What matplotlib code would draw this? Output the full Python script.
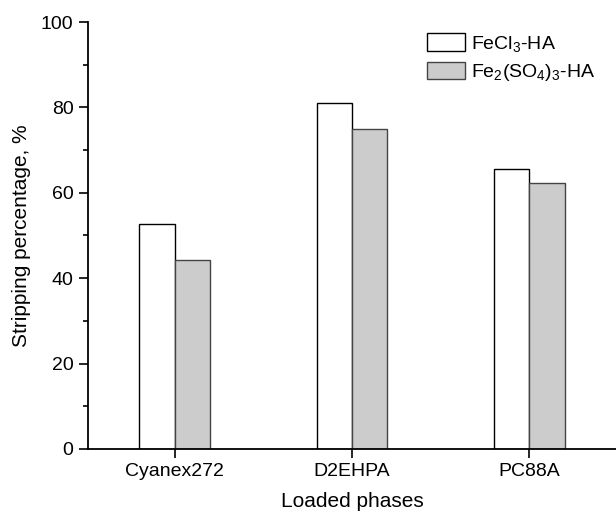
import numpy as np
import matplotlib
matplotlib.use('Agg')
import matplotlib.pyplot as plt
from matplotlib.ticker import MultipleLocator

plt.rcParams['font.family'] = ['Liberation Sans', 'DejaVu Sans']
plt.rcParams['mathtext.fontset'] = 'custom'
plt.rcParams['mathtext.rm'] = 'Liberation Sans'
plt.rcParams['mathtext.it'] = 'Liberation Sans:italic'
plt.rcParams['mathtext.bf'] = 'Liberation Sans:bold'

phases = ['Cyanex272', 'D2EHPA', 'PC88A']
fecl3 = [52.8, 81.0, 65.5]
fe2so4 = [44.2, 75.0, 62.2]

fig = plt.figure(figsize=(6.16, 5.13), dpi=100)
ax = fig.add_axes([0.143, 0.125, 0.857, 0.832])

x = np.arange(len(phases))
w = 0.2
ax.bar(x - w / 2, fecl3, w, color='white', edgecolor='black', linewidth=1.0,
       label=r'FeCl$\mathrm{_3}$-HA')
ax.bar(x + w / 2, fe2so4, w, color='#cccccc', edgecolor='#444444', linewidth=1.0,
       label=r'Fe$\mathrm{_2}$(SO$\mathrm{_4}$)$\mathrm{_3}$-HA')

ax.set_xlim(-0.49, 2.49)
ax.set_ylim(0, 100)
ax.set_xticks(x)
ax.set_xticklabels(phases)
ax.yaxis.set_major_locator(MultipleLocator(20))
ax.yaxis.set_minor_locator(MultipleLocator(10))
ax.tick_params(axis='both', which='major', direction='out', length=6.5, width=1.2,
               labelsize=14, pad=4)
ax.tick_params(axis='y', which='minor', direction='out', length=3.6, width=1.2)

for s in ['top', 'right']:
    ax.spines[s].set_visible(False)
for s in ['left', 'bottom']:
    ax.spines[s].set_linewidth(1.3)

ax.set_xlabel('Loaded phases', fontsize=15, labelpad=8)
ax.set_ylabel('Stripping percentage, %', fontsize=15, labelpad=7)

ax.legend(loc='upper left', bbox_to_anchor=(0.68, 0.95), bbox_transform=fig.transFigure,
          frameon=False, fontsize=14, handlelength=1.95, handleheight=1.0,
          labelspacing=0.4, handletextpad=0.35, borderaxespad=0)

fig.savefig('out.png', dpi=100)
